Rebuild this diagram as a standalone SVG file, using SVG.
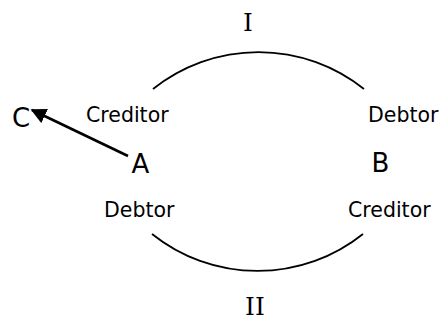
<svg xmlns="http://www.w3.org/2000/svg" width="441" height="322" viewBox="0 0 441 322">
  <style>
    text { font-family: "DejaVu Sans", Verdana, sans-serif; fill: #000; }
    .big { font-size: 26px; text-anchor: middle; }
    .roman { font-family: "DejaVu Serif", "Liberation Serif", serif; font-size: 25px; text-anchor: middle; }
    .lbl { font-size: 20.5px; }
    .arc { fill: none; stroke: #000; stroke-width: 1.8; }
    .arrow { fill: none; stroke: #000; stroke-width: 2.6; }
  </style>
  <defs>
    <marker id="ah" viewBox="0 0 10 10" refX="9" refY="5" markerWidth="6" markerHeight="6" markerUnits="strokeWidth" orient="auto">
      <path d="M0,0 L10,5 L0,10 z" fill="#000"/>
    </marker>
  </defs>
  <g id="connectors">
    <path class="arc" d="M153,89 A169,169 0 0,1 364,89"/>
    <path class="arc" d="M152,234 A169,169 0 0,0 363,234"/>
    <line class="arrow" x1="128" y1="156" x2="32" y2="110" marker-end="url(#ah)"/>
  </g>
  <g id="label-I"><text class="roman" x="248" y="31">I</text></g>
  <g id="label-II"><text class="roman" x="255" y="315">II</text></g>
  <g id="node-C"><text class="big" x="21" y="127">C</text></g>
  <g id="node-A"><text class="big" x="140.5" y="173">A</text></g>
  <g id="node-B"><text class="big" x="380.5" y="172">B</text></g>
  <g id="label-creditor-A"><text class="lbl" x="86" y="121.5">Creditor</text></g>
  <g id="label-debtor-B"><text class="lbl" x="368" y="121.5">Debtor</text></g>
  <g id="label-debtor-A"><text class="lbl" x="104" y="217">Debtor</text></g>
  <g id="label-creditor-B"><text class="lbl" x="348" y="217">Creditor</text></g>
</svg>
